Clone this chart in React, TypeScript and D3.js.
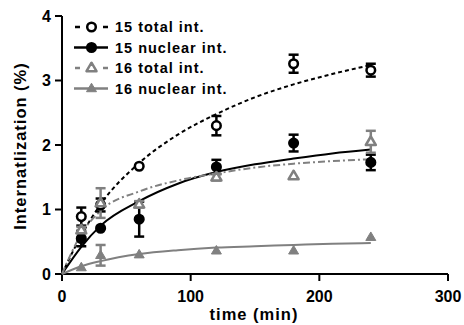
import React from 'react';
import * as d3 from 'd3';

// measured time points (min)
const times = [15, 30, 60, 120, 180, 240];

// mean values (%)
const total15 = [0.89, 1.07, 1.67, 2.3, 3.26, 3.16];
const total15Err = [0.14, 0.1, 0, 0.15, 0.14, 0.1];
const nuclear15 = [0.55, 0.71, 0.85, 1.66, 2.03, 1.73];
const nuclear15Err = [0.12, 0, 0.27, 0.11, 0.13, 0.12];
const total16 = [0.68, 1.1, 1.08, 1.5, 1.52, 2.05];
const total16Err = [0.05, 0.23, 0.05, 0.05, 0, 0.17];
const nuclear16 = [0.1, 0.29, 0.3, 0.36, 0.36, 0.57];
const nuclear16Err = [0, 0.16, 0, 0, 0, 0];

// fitted curves, sampled from the figure
const fitTimes = [0, 15, 30, 60, 90, 120, 150, 180, 210, 240];
const total15Fit = [0, 0.6, 1.08, 1.72, 2.16, 2.48, 2.74, 2.94, 3.1, 3.24];
const nuclear15Fit = [0, 0.42, 0.75, 1.13, 1.4, 1.58, 1.7, 1.79, 1.87, 1.93];
const total16Fit = [0, 0.62, 0.98, 1.28, 1.45, 1.56, 1.65, 1.71, 1.75, 1.78];
const nuclear16Fit = [0, 0.12, 0.2, 0.31, 0.37, 0.41, 0.43, 0.45, 0.47, 0.48];

const xTicks = [0, 100, 200, 300];
const yTicks = [0, 1, 2, 3, 4];

const BLACK = '#000';
const GRAY = '#808080';

const series = [
  { name: '15 total int.', values: total15, err: total15Err, fit: total15Fit, color: BLACK, shape: 'circle', open: true, dash: '4,3' },
  { name: '15 nuclear int.', values: nuclear15, err: nuclear15Err, fit: nuclear15Fit, color: BLACK, shape: 'circle', open: false, dash: null },
  { name: '16 total int.', values: total16, err: total16Err, fit: total16Fit, color: GRAY, shape: 'triangle', open: true, dash: '7,3,2,3' },
  { name: '16 nuclear int.', values: nuclear16, err: nuclear16Err, fit: nuclear16Fit, color: GRAY, shape: 'triangle', open: false, dash: null },
];

const Marker = ({ x, y, s }: any) => {
  if (s.shape === 'circle') {
    return (
      <circle cx={x} cy={y} r={4.3} fill={s.open ? '#fff' : s.color}
        stroke={s.color} strokeWidth={2.5} />
    );
  }
  const h = 8.5;
  const w = 10;
  const pts = `${x},${y - h * 0.62} ${x - w / 2},${y + h * 0.38} ${x + w / 2},${y + h * 0.38}`;
  return (
    <polygon points={pts} fill={s.open ? '#fff' : s.color}
      stroke={s.color} strokeWidth={s.open ? 2.5 : 1} strokeLinejoin="round" />
  );
};

const App = () => {
  const width = 464;
  const height = 325;
  const margin = { top: 16, right: 16, bottom: 51, left: 62 };

  const xScale = d3.scaleLinear().domain([0, 300]).range([margin.left, 448]);
  const yScale = d3.scaleLinear().domain([0, 4]).range([height - margin.bottom, margin.top]);

  const line = d3
    .line<number>()
    .x((d, i) => xScale(fitTimes[i]))
    .y((d) => yScale(d))
    .curve(d3.curveMonotoneX);

  const font = 'Liberation Sans, Arial, sans-serif';
  const y0 = yScale(0);
  const capW = 5;

  return (
    <svg width={width} height={height}
      style={{ position: 'absolute', left: 0, top: 0, background: '#fff' }}
      fontFamily={font} fontWeight="bold">
      {/* axes */}
      <line x1={xScale(0)} x2={xScale(0)} y1={yScale(4)} y2={y0} stroke="#000" strokeWidth={2} />
      <line x1={xScale(0)} x2={xScale(300)} y1={y0} y2={y0} stroke="#000" strokeWidth={2} />
      {yTicks.map((t) => (
        <g key={'y' + t}>
          <line x1={xScale(0) - 7} x2={xScale(0)} y1={yScale(t)} y2={yScale(t)} stroke="#000" strokeWidth={2} />
          <text x={xScale(0) - 11} y={yScale(t)} dy="0.36em" textAnchor="end" fontSize={16}>{t}</text>
        </g>
      ))}
      {xTicks.map((t) => (
        <g key={'x' + t}>
          <line x1={xScale(t)} x2={xScale(t)} y1={y0} y2={y0 + 7} stroke="#000" strokeWidth={2} />
          <text x={xScale(t)} y={y0 + 28} textAnchor="middle" fontSize={16}>{t}</text>
        </g>
      ))}
      <text x={254} y={320} textAnchor="middle" fontSize={16.5} letterSpacing={1}>time (min)</text>
      <text transform={`translate(26,146) rotate(-90)`} textAnchor="middle" fontSize={16.5} letterSpacing={1}>
        Internatlization (%)
      </text>

      {/* fitted curves */}
      {series.map((s) => (
        <path key={'fit' + s.name} d={line(s.fit) || ''} fill="none" stroke={s.color}
          strokeWidth={2} strokeDasharray={s.dash || undefined} />
      ))}

      {/* error bars */}
      {series.map((s) =>
        s.values.map((v, i) => {
          const e = s.err[i];
          if (!e) return null;
          const x = xScale(times[i]);
          return (
            <g key={'e' + s.name + i} stroke={s.color} strokeWidth={2.5}>
              <line x1={x} x2={x} y1={yScale(v - e)} y2={yScale(v + e)} />
              <line x1={x - capW} x2={x + capW} y1={yScale(v + e)} y2={yScale(v + e)} />
              <line x1={x - capW} x2={x + capW} y1={yScale(v - e)} y2={yScale(v - e)} />
            </g>
          );
        })
      )}

      {/* markers */}
      {series.map((s) =>
        s.values.map((v, i) => (
          <Marker key={'m' + s.name + i} x={xScale(times[i])} y={yScale(v)} s={s} />
        ))
      )}

      {/* legend */}
      {series.map((s, i) => {
        const ly = 27 + i * 20.5;
        return (
          <g key={'l' + s.name}>
            {s.dash ? (
              <g stroke={s.color} strokeWidth={2.5}>
                <line x1={75} x2={80} y1={ly} y2={ly} />
                <line x1={103} x2={108} y1={ly} y2={ly} />
              </g>
            ) : (
              <line x1={74} x2={108} y1={ly} y2={ly} stroke={s.color} strokeWidth={2.5} />
            )}
            <Marker x={91.5} y={ly} s={s} />
            <text x={115} y={ly} dy="0.36em" fontSize={14.5} letterSpacing={1} fill="#000">{s.name}</text>
          </g>
        );
      })}
    </svg>
  );
};

export default App;
